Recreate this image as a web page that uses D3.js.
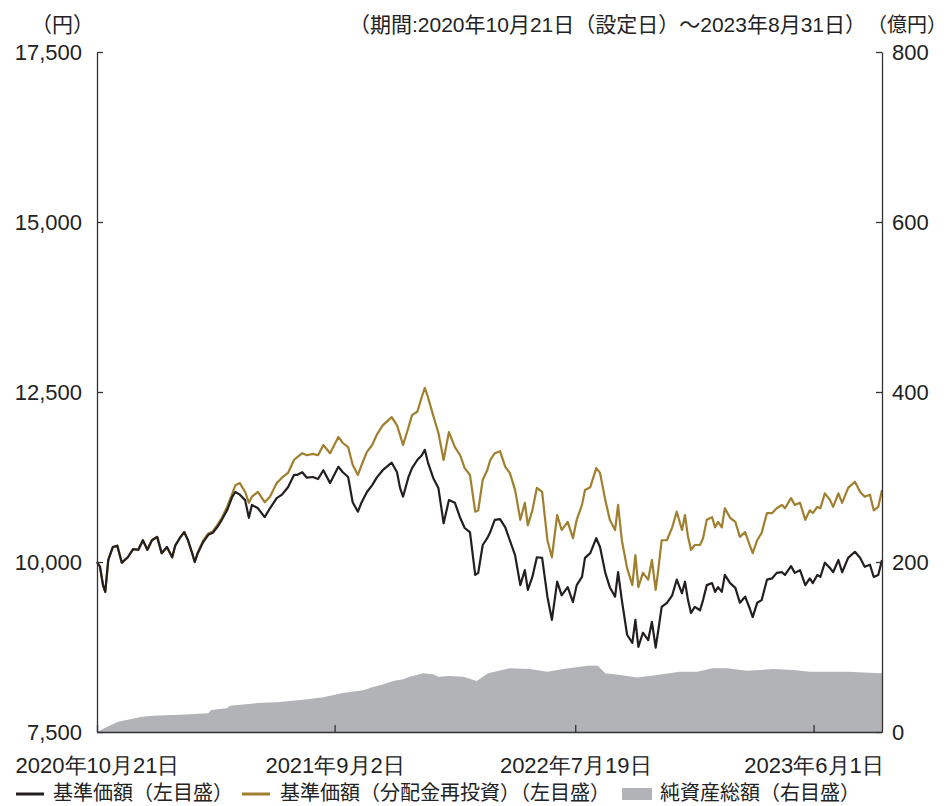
<!DOCTYPE html>
<html lang="ja">
<head>
<meta charset="utf-8">
<script src="https://cdn.jsdelivr.net/npm/d3@7"></script>
<style>
    body { margin: 0; background: #fff; }
    svg { font-family: "Liberation Sans", "Noto Sans CJK JP", sans-serif; }
</style>
</head>
<body>
<script>
// 基準価額の日付（両系列共通）
const dates = [
    "2020-10-21","2020-10-25","2020-10-29","2020-11-01","2020-11-05","2020-11-11","2020-11-17","2020-11-23","2020-12-01","2020-12-08",
    "2020-12-15","2020-12-21","2020-12-27","2021-01-02","2021-01-09","2021-01-15","2021-01-22","2021-01-29","2021-02-02","2021-02-08",
    "2021-02-14","2021-02-19","2021-02-24","2021-02-28","2021-03-04","2021-03-11","2021-03-18","2021-03-24","2021-03-31","2021-04-05",
    "2021-04-12","2021-04-19","2021-04-23","2021-04-29","2021-05-06","2021-05-11","2021-05-15","2021-05-23","2021-06-01","2021-06-08",
    "2021-06-17","2021-06-24","2021-07-02","2021-07-10",
    "2021-07-14","2021-07-21","2021-07-27","2021-08-04","2021-08-11","2021-08-18","2021-08-27","2021-09-07","2021-09-13","2021-09-20",
    "2021-09-26","2021-10-03","2021-10-08","2021-10-15","2021-10-22","2021-10-28","2021-11-05","2021-11-17","2021-11-24","2021-11-28",
    "2021-12-02","2021-12-09","2021-12-14","2021-12-21","2021-12-27","2021-12-31","2022-01-04","2022-01-11","2022-01-18","2022-01-25",
    "2022-02-01","2022-02-09","2022-02-16","2022-02-22","2022-03-01","2022-03-08","2022-03-12","2022-03-18","2022-03-24","2022-03-28",
    "2022-04-03","2022-04-10","2022-04-17","2022-04-23","2022-04-30","2022-05-07","2022-05-13","2022-05-17","2022-05-23","2022-05-29",
    "2022-06-05","2022-06-12","2022-06-18","2022-06-25","2022-07-01","2022-07-09","2022-07-16","2022-07-21","2022-07-28","2022-08-01",
    "2022-08-08","2022-08-16","2022-08-21","2022-08-28","2022-09-03","2022-09-10","2022-09-14","2022-09-19","2022-09-26","2022-10-03",
    "2022-10-07","2022-10-11","2022-10-17","2022-10-24","2022-10-29","2022-11-03","2022-11-06","2022-11-11","2022-11-18","2022-11-25",
    "2022-12-01","2022-12-08","2022-12-12",
    "2022-12-16","2022-12-20","2022-12-25","2023-01-01","2023-01-05","2023-01-10","2023-01-17","2023-01-21","2023-01-25","2023-01-30",
    "2023-02-03","2023-02-10","2023-02-17","2023-02-23","2023-03-02","2023-03-08","2023-03-12","2023-03-18","2023-03-24","2023-03-31",
    "2023-04-07","2023-04-13","2023-04-20","2023-04-24","2023-05-02","2023-05-07","2023-05-14","2023-05-21","2023-05-27","2023-05-31",
    "2023-06-06","2023-06-10","2023-06-16","2023-06-23","2023-06-27","2023-07-04","2023-07-09","2023-07-17","2023-07-26","2023-08-02",
    "2023-08-08","2023-08-15","2023-08-20","2023-08-26","2023-08-31"
]

// 基準価額（円）
const nav = [
    10000,9930,9660,9560,10030,10220,10240,9990,10070,10190,
    10180,10320,10180,10320,10370,10130,10220,10070,10240,10350,
    10440,10320,10150,10000,10130,10290,10400,10430,10530,10620,
    10760,10960,11030,10990,10910,10650,10840,10790,10660,10790,
    10940,10990,11100,11280,
    11280,11320,11240,11250,11220,11350,11160,11400,11320,11250,
    10880,10740,10880,11030,11130,11240,11350,11460,11320,11090,
    10960,11240,11380,11500,11570,11650,11470,11240,11090,10570,
    10910,10870,10650,10500,10440,9810,9840,10250,10350,10440,
    10620,10630,10510,10320,10100,9660,9880,9590,9780,10070,
    10060,9490,9150,9710,9510,9630,9410,9660,9780,10060,
    10130,10350,10220,9840,9630,9490,9850,9440,8930,8810,
    9150,8750,8960,8850,9120,8740,8960,9340,9400,9510,
    9740,9540,9710,
    9440,9250,9340,9290,9440,9660,9690,9560,9630,9560,
    9810,9690,9620,9400,9490,9320,9190,9400,9440,9740,
    9760,9840,9850,9810,9940,9840,9880,9660,9760,9690,
    9810,9780,9990,9910,9850,10030,9850,10060,10150,10060,
    9930,9960,9780,9810,10030
]

// 基準価額（分配金再投資）（円）
const navReinvest = [
    10000,9930,9660,9560,10030,10220,10240,9990,10070,10190,
    10180,10320,10180,10320,10370,10130,10220,10070,10240,10350,
    10440,10320,10150,10000,10140,10310,10420,10450,10560,10650,
    10810,11010,11130,11160,11030,10870,10960,11030,10880,10960,
    11160,11240,11310,11500,
    11540,11600,11570,11590,11570,11720,11600,11840,11750,11690,
    11430,11280,11430,11620,11720,11870,12010,12130,12010,11870,
    11720,11970,12160,12210,12430,12560,12430,12160,11900,11500,
    11910,11690,11570,11380,11280,10740,10760,11210,11350,11500,
    11600,11630,11400,11310,11060,10620,10870,10540,10760,11090,
    11030,10320,10070,10690,10470,10590,10350,10620,10840,11060,
    11100,11380,11310,10910,10620,10470,10840,10320,9910,9660,
    10100,9630,9840,9740,10030,9590,9840,10320,10320,10510,
    10740,10470,10690,
    10370,10180,10250,10250,10350,10620,10660,10510,10590,10510,
    10790,10650,10590,10370,10440,10250,10130,10320,10430,10720,
    10720,10790,10840,10790,10940,10840,10870,10620,10760,10720,
    10810,10790,11010,10910,10810,11010,10870,11090,11180,11030,
    10960,10990,10760,10810,11060
]

// 純資産総額（億円）
const assetDates = [
    "2020-10-21","2020-11-03","2020-11-18","2020-12-04","2020-12-20","2021-01-03","2021-01-30","2021-02-22","2021-03-18","2021-03-22",
    "2021-04-12","2021-04-16","2021-05-22","2021-06-17","2021-07-22","2021-08-18","2021-09-13","2021-10-10","2021-10-23","2021-11-05",
    "2021-11-19","2021-12-02","2021-12-11","2021-12-29","2022-01-11","2022-01-18","2022-02-02","2022-02-20","2022-03-10","2022-03-25",
    "2022-04-23","2022-05-20","2022-06-12","2022-07-03","2022-08-04","2022-08-18","2022-08-28","2022-09-17","2022-10-09","2022-11-05",
    "2022-12-05","2022-12-28","2023-01-18","2023-02-06","2023-03-04","2023-04-08","2023-05-05","2023-05-27","2023-07-16","2023-08-29",
    "2023-08-31"
]
const assetValues = [
    0,6,12,15,18,19,20,21,22,26,
    28,31,34,35,38,41,46,49,53,56,
    60,62,65,69,68,65,66,65,60,69,
    75,74,71,74,78,78,69,67,64,67,
    71,71,75,75,72,74,73,71,71,69,
    69
]

const leftTicks = [7500, 10000, 12500, 15000, 17500]
const rightTicks = [0, 200, 400, 600, 800]
const xTicks = ["2020-10-21", "2021-09-02", "2022-07-19", "2023-06-01"]

const WIDTH = 948
const HEIGHT = 806
const PADDING = { left: 97, right: 66, top: 52, bottom: 74 }

const parse = d3.utcParse("%Y-%m-%d")

const svg = d3.select("body")
    .append("svg")
    .attr("width", WIDTH)
    .attr("height", HEIGHT)

const xScale = d3.scaleUtc()
    .domain([parse("2020-10-21"), parse("2023-08-31")])
    .range([PADDING.left, WIDTH - PADDING.right])

const yLeft = d3.scaleLinear()
    .domain([7500, 17500])
    .range([HEIGHT - PADDING.bottom, PADDING.top])

const yRight = d3.scaleLinear()
    .domain([0, 800])
    .range([HEIGHT - PADDING.bottom, PADDING.top])

// 純資産総額
const assets = assetDates.map((d, i) => ({ date: parse(d), value: assetValues[i] }))
svg.append("path")
    .datum(assets)
    .attr("fill", "#b2b3b6")
    .attr("d", d3.area()
        .x(d => xScale(d.date))
        .y0(yRight(0))
        .y1(d => yRight(d.value)))

const line = d3.line()
    .x(d => xScale(d.date))
    .y(d => yLeft(d.value))

svg.append("path")
    .datum(dates.map((d, i) => ({ date: parse(d), value: navReinvest[i] })))
    .attr("fill", "none")
    .attr("stroke", "#a07f2e")
    .attr("stroke-width", 2.2)
    .attr("stroke-linejoin", "round")
    .attr("d", line)

svg.append("path")
    .datum(dates.map((d, i) => ({ date: parse(d), value: nav[i] })))
    .attr("fill", "none")
    .attr("stroke", "#231f20")
    .attr("stroke-width", 2.2)
    .attr("stroke-linejoin", "round")
    .attr("d", line)

// 軸
const styleAxis = (g, size) => {
    g.select(".domain").attr("stroke", "#333").attr("stroke-width", 1.3)
    g.selectAll(".tick line").attr("stroke", "#333").attr("stroke-width", 1.3)
    g.selectAll(".tick text").attr("fill", "#222").style("font-size", size + "px")
}

svg.append("g")
    .attr("transform", "translate(" + PADDING.left + ",0)")
    .call(d3.axisLeft(yLeft)
        .tickValues(leftTicks)
        .tickSize(-6)
        .tickSizeOuter(0)
        .tickPadding(15)
        .tickFormat(d3.format(",")))
    .call(g => styleAxis(g, 22))

svg.append("g")
    .attr("transform", "translate(" + (WIDTH - PADDING.right) + ",0)")
    .call(d3.axisRight(yRight)
        .tickValues(rightTicks)
        .tickSize(-6)
        .tickSizeOuter(0)
        .tickPadding(10))
    .call(g => styleAxis(g, 22))

svg.append("g")
    .attr("transform", "translate(0," + (HEIGHT - PADDING.bottom) + ")")
    .call(d3.axisBottom(xScale)
        .tickValues(xTicks.map(parse))
        .tickSize(-7)
        .tickSizeOuter(0)
        .tickPadding(25)
        .tickFormat(d => d.getUTCFullYear() + "年" + (d.getUTCMonth() + 1) + "月" + d.getUTCDate() + "日"))
    .call(g => styleAxis(g, 22))

// 単位・期間
svg.append("text")
    .attr("x", 31)
    .attr("y", 32)
    .style("font-size", "21px")
    .attr("fill", "#222")
    .text("（円）")

svg.append("text")
    .attr("x", 866)
    .attr("y", 32)
    .attr("text-anchor", "end")
    .style("font-size", "21px")
    .attr("fill", "#222")
    .text("（期間:2020年10月21日（設定日）～2023年8月31日）")

svg.append("text")
    .attr("x", 947)
    .attr("y", 32)
    .attr("text-anchor", "end")
    .style("font-size", "20px")
    .attr("fill", "#222")
    .text("（億円）")

// 凡例
const legend = svg.append("g")
    .attr("transform", "translate(0, 794)")
    .style("font-size", "20px")
    .attr("fill", "#222")

legend.append("line")
    .attr("x1", 16).attr("x2", 44)
    .attr("stroke", "#231f20")
    .attr("stroke-width", 3)
legend.append("text")
    .attr("x", 53).attr("dy", "0.3em")
    .text("基準価額（左目盛）")

legend.append("line")
    .attr("x1", 242).attr("x2", 270)
    .attr("stroke", "#a07f2e")
    .attr("stroke-width", 3)
legend.append("text")
    .attr("x", 280).attr("dy", "0.3em")
    .text("基準価額（分配金再投資）（左目盛）")

legend.append("rect")
    .attr("x", 622).attr("y", -6)
    .attr("width", 30).attr("height", 12)
    .attr("fill", "#b2b3b6")
legend.append("text")
    .attr("x", 660).attr("dy", "0.3em")
    .text("純資産総額（右目盛）")
</script>
</body>
</html>
